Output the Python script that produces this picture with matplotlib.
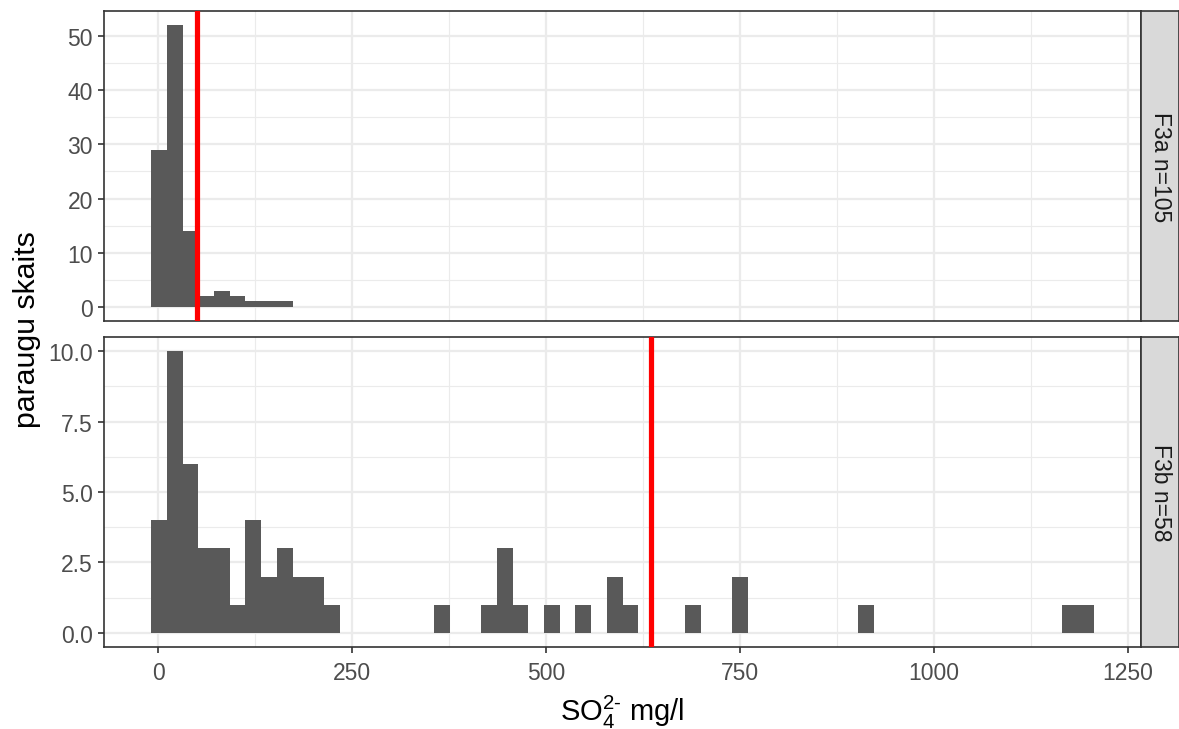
import numpy as np
import matplotlib
matplotlib.use("Agg")
import matplotlib.pyplot as plt
from matplotlib.ticker import FixedLocator

plt.rcParams['font.family'] = ['Liberation Sans', 'DejaVu Sans']
plt.rcParams['mathtext.fontset'] = 'custom'
plt.rcParams['mathtext.rm'] = 'Liberation Sans'
plt.rcParams['mathtext.it'] = 'Liberation Sans:italic'

# histogram bins (ggplot bins=60 over the shared data range)
x_min = 0.8
x_max = 1196.0
n_bins = 60

# facet F3a: bin index -> count
top_bins = [0, 1, 2, 3, 4, 5, 6, 7, 8]
top_counts = [29, 52, 14, 2, 3, 2, 1, 1, 1]
top_label = "F3a n=105"
top_vline = 50

# facet F3b
bottom_bins = [0, 1, 2, 3, 4, 5, 6, 7, 8, 9, 10, 11,
               18, 21, 22, 23, 25, 27, 29, 30, 34, 37, 45, 58, 59]
bottom_counts = [4, 10, 6, 3, 3, 1, 4, 2, 3, 2, 2, 1,
                 1, 1, 3, 1, 1, 1, 2, 1, 1, 2, 1, 1, 1]
bottom_label = "F3b n=58"
bottom_vline = 635

x_ticks = [0, 250, 500, 750, 1000, 1250]

W, H = 1179, 730
DPI = 150
fig = plt.figure(figsize=(W / DPI, H / DPI), dpi=DPI)

bw = (x_max - x_min) / (n_bins - 1)
lo = x_min - bw / 2
hi = lo + n_bins * bw
pad = 0.05 * (hi - lo)
xlim = (lo - pad, hi + pad)

grey20 = '#333333'


def px_axes(x0, y0, x1, y1):
    return fig.add_axes([x0 / W, 1 - y1 / H, (x1 - x0) / W, (y1 - y0) / H])


def panel(ax, bins, counts, vline, yticks, yminor, ylim, fmt):
    lefts = [lo + b * bw for b in bins]
    ax.bar(lefts, counts, width=bw, align='edge', color='#595959',
           linewidth=0, zorder=2)
    ax.axvline(vline, color='#FF0000', lw=2.5, zorder=3)
    ax.set_xlim(*xlim)
    ax.set_ylim(*ylim)
    ax.set_xticks(x_ticks)
    ax.xaxis.set_minor_locator(FixedLocator([125, 375, 625, 875, 1125]))
    ax.set_yticks(yticks)
    ax.set_yticklabels([fmt % v for v in yticks])
    ax.yaxis.set_minor_locator(FixedLocator(yminor))
    ax.grid(True, which='major', color='#EBEBEB', lw=1.1, zorder=0)
    ax.grid(True, which='minor', color='#EBEBEB', lw=0.55, zorder=0)
    ax.set_axisbelow(True)
    for s in ax.spines.values():
        s.set_color(grey20)
        s.set_linewidth(0.8)
    ax.tick_params(which='major', length=2.75, width=0.8, color=grey20,
                   labelsize=11, labelcolor='#4D4D4D', pad=2.5)
    ax.tick_params(axis='x', which='major', pad=4)
    ax.tick_params(which='minor', length=0)


def strip(x0, y0, x1, y1, text):
    s = px_axes(x0, y0, x1, y1)
    s.set_facecolor('#D9D9D9')
    s.set_xticks([])
    s.set_yticks([])
    for sp in s.spines.values():
        sp.set_color(grey20)
        sp.set_linewidth(0.8)
    s.text(0.5, 0.5, text, rotation=-90, ha='center', va='center',
           fontsize=11, color='#1A1A1A', transform=s.transAxes)


ax1 = px_axes(104, 12, 1141, 322)
panel(ax1, top_bins, top_counts, top_vline, [0, 10, 20, 30, 40, 50],
      [5, 15, 25, 35, 45], (-2.6, 54.6), '%d')
ax1.tick_params(axis='x', which='both', bottom=False, labelbottom=False)

ax2 = px_axes(104, 338, 1141, 648)
panel(ax2, bottom_bins, bottom_counts, bottom_vline, [0, 2.5, 5, 7.5, 10],
      [1.25, 3.75, 6.25, 8.75], (-0.5, 10.5), '%.1f')

strip(1141, 12, 1179, 322, top_label)
strip(1141, 338, 1179, 648, bottom_label)

fig.text(622 / W, 1 - 712 / H, r"SO$_4^{\text{2-}}$ mg/l", ha='center',
         va='center', fontsize=14)
fig.text(27 / W, 1 - 330 / H, "paraugu skaits", rotation=90, ha='center',
         va='center', fontsize=14.5)

fig.savefig("out.png", dpi=DPI)
